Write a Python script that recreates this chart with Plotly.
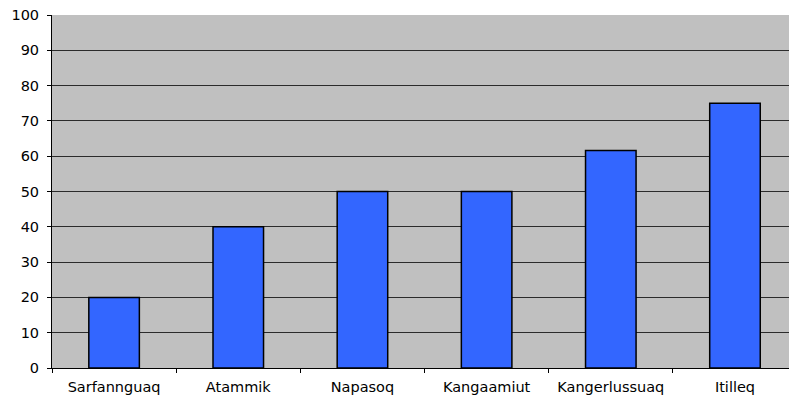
import plotly.graph_objects as go

categories = ["Sarfannguaq", "Atammik", "Napasoq", "Kangaamiut", "Kangerlussuaq", "Itilleq"]
values = [20, 40, 50, 50, 61.6, 75]
y_ticks = [0, 10, 20, 30, 40, 50, 60, 70, 80, 90, 100]

fig = go.Figure(
    go.Bar(
        x=categories,
        y=values,
        marker=dict(color="#3366FF", line=dict(color="#000000", width=1.5)),
        hoverinfo="skip",
    )
)

fig.update_layout(
    width=789,
    height=403,
    margin=dict(l=52, r=0, t=15, b=35),
    paper_bgcolor="#FFFFFF",
    plot_bgcolor="#C0C0C0",
    bargap=0.593,
    showlegend=False,
    font=dict(family="DejaVu Sans, Arial, sans-serif", size=14.5, color="#000000"),
)

fig.update_xaxes(
    range=[-0.5, 5.435],
    showline=True,
    linecolor="#000000",
    linewidth=1,
    ticks="outside",
    tickson="boundaries",
    ticklen=4,
    tickcolor="#000000",
    ticklabelstandoff=6,
    showgrid=False,
    automargin=False,
)

fig.update_yaxes(
    range=[0, 100],
    tickvals=y_ticks,
    showline=True,
    linecolor="#000000",
    linewidth=1,
    ticks="outside",
    ticklen=4,
    tickcolor="#000000",
    ticklabelstandoff=5,
    showgrid=True,
    gridcolor="#2b2b2b",
    gridwidth=1,
    zeroline=False,
    automargin=False,
)

# remove the default page margin so the figure sits at the window origin
fig.write_html(
    "out.html",
    config={"displayModeBar": False},
    post_script="document.body.style.margin='0';document.body.style.overflow='hidden';",
)
